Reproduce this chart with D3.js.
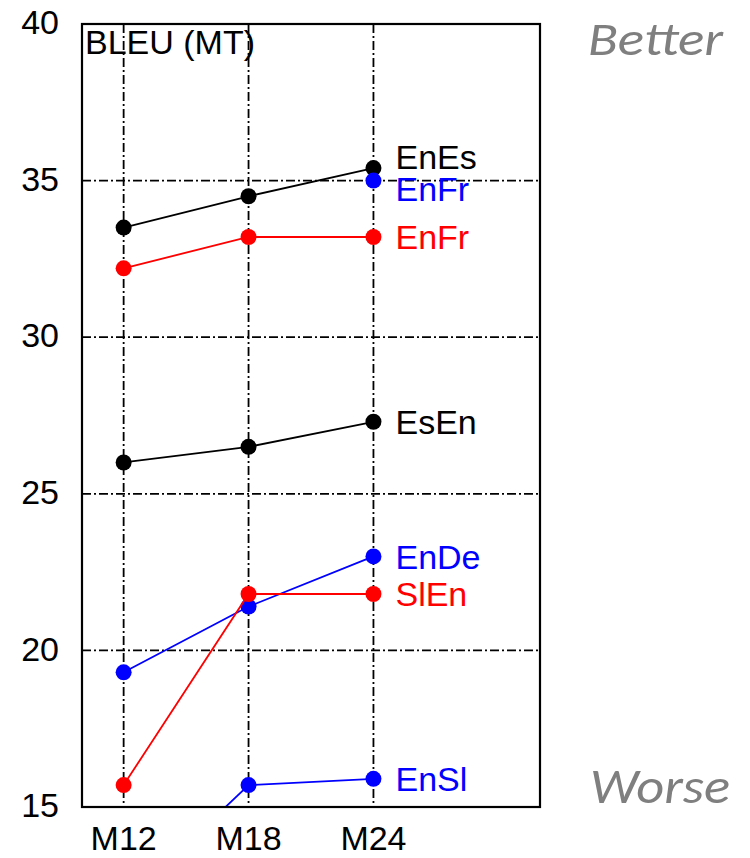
<!DOCTYPE html>
<html><head><meta charset="utf-8">
<script src="https://cdn.jsdelivr.net/npm/d3@7"></script>
<style>body{margin:0;background:#fff}</style>
</head><body>
<svg id="c" width="750" height="858"></svg>
<script>
const categories = ["M12", "M18", "M24"];
const months = [12, 18, 24];
const yTicks = [15, 20, 25, 30, 35, 40];
const gridY = [20, 25, 30, 35];

const seriesNames = ["EnEs", "EnFr", "EnFr", "EsEn", "EnDe", "SlEn", "EnSl"];
const seriesColors = ["#000000", "#0000ff", "#ff0000", "#000000", "#0000ff", "#ff0000", "#0000ff"];
const enEs = [33.5, 34.5, 35.4];
const enFrBlue = [null, null, 35.0];
const enFrRed = [32.2, 33.2, 33.2];
const esEn = [26.0, 26.5, 27.3];
const enDe = [19.3, 21.4, 23.0];
const slEn = [15.7, 21.8, 21.8];
const enSl = [11.9, 15.7, 15.9];
const seriesValues = [enEs, enFrBlue, enFrRed, esEn, enDe, slEn, enSl];
// label vertical positions (data units)
const labelValues = [35.75, 34.75, 33.2, 27.3, 23.0, 21.8, 15.9];

const svg = d3.select("#c");
const L = 82, R = 540, T = 24, B = 807;
const x = d3.scaleLinear().domain([10, 32]).range([L, R]);
const y = d3.scaleLinear().domain([15, 40]).range([B, T]);

const dash = "9,3,2,3";
// grid
svg.append("g").selectAll("line.gx").data(months).join("line")
  .attr("x1", d => x(d)).attr("x2", d => x(d)).attr("y1", T).attr("y2", B)
  .attr("stroke", "#000").attr("stroke-width", 1.8).attr("stroke-dasharray", dash);
svg.append("g").selectAll("line.gy").data(gridY).join("line")
  .attr("x1", L).attr("x2", R).attr("y1", d => y(d)).attr("y2", d => y(d))
  .attr("stroke", "#000").attr("stroke-width", 1.8).attr("stroke-dasharray", dash);

// clip
svg.append("clipPath").attr("id", "clip").append("rect")
  .attr("x", L).attr("y", T).attr("width", R - L).attr("height", B - T);

const font = "'Liberation Sans', Arial, sans-serif";
const lineGen = d3.line().defined(d => d[1] != null).x(d => x(d[0])).y(d => y(d[1]));
const plot = svg.append("g").attr("clip-path", "url(#clip)");
seriesValues.forEach((vals, i) => {
  const pts = vals.map((v, j) => [months[j], v]);
  plot.append("path").datum(pts).attr("d", lineGen)
    .attr("fill", "none").attr("stroke", seriesColors[i]).attr("stroke-width", 1.8);
  plot.selectAll(null).data(pts.filter(p => p[1] != null)).join("circle")
    .attr("cx", p => x(p[0])).attr("cy", p => y(p[1])).attr("r", 8)
    .attr("fill", seriesColors[i]);
});

// series labels
svg.append("g").selectAll("text").data(seriesNames).join("text")
  .attr("x", x(24) + 22).attr("y", (d, i) => y(labelValues[i]))
  .attr("dy", "0.36em").attr("fill", (d, i) => seriesColors[i])
  .attr("font-family", font).attr("font-size", 34).text(d => d);

// frame
svg.append("rect").attr("x", L).attr("y", T).attr("width", R - L).attr("height", B - T)
  .attr("fill", "none").attr("stroke", "#000").attr("stroke-width", 2.2);

// axes labels
svg.append("g").selectAll("text").data(yTicks).join("text")
  .attr("x", 59).attr("y", d => y(d)).attr("dy", "0.3em").attr("text-anchor", "end")
  .attr("font-family", font).attr("font-size", 34).attr("fill", "#000").text(d => d);
svg.append("g").selectAll("text").data(categories).join("text")
  .attr("x", (d, i) => x(months[i])).attr("y", 850).attr("text-anchor", "middle")
  .attr("font-family", font).attr("font-size", 34).attr("fill", "#000").text(d => d);

svg.append("text").attr("x", 85).attr("y", 54).attr("font-family", font)
  .attr("font-size", 34).attr("fill", "#000").text("BLEU (MT)");

const cal = "Carlito, Calibri, 'Open Sans', sans-serif";
svg.append("text").attr("x", 588).attr("y", 55).attr("font-family", cal)
  .attr("font-style", "italic").attr("font-size", 48).attr("fill", "#7f7f7f")
  .attr("textLength", 135).attr("lengthAdjust", "spacingAndGlyphs").text("Better");
svg.append("text").attr("x", 590).attr("y", 803).attr("font-family", cal)
  .attr("font-style", "italic").attr("font-size", 50).attr("fill", "#7f7f7f")
  .attr("textLength", 140).attr("lengthAdjust", "spacingAndGlyphs").text("Worse");
</script>
</body></html>
